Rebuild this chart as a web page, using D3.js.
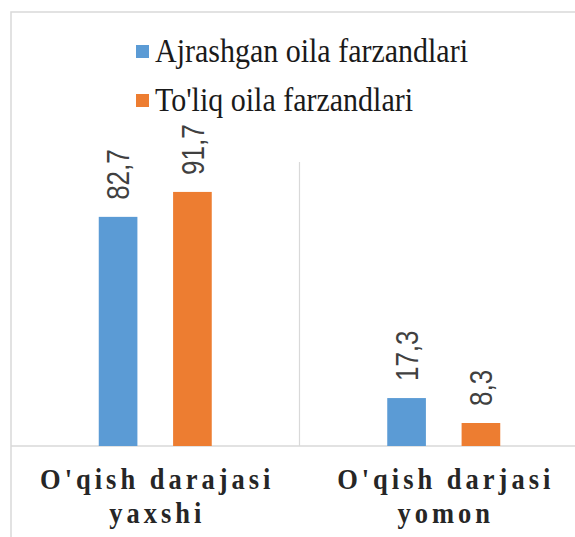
<!DOCTYPE html>
<html>
<head>
<meta charset="utf-8">
<script src="https://cdn.jsdelivr.net/npm/d3@7"></script>
<style>
  body { margin: 0; background: #fff; }
  svg { display: block; }
  .serif { font-family: "Liberation Serif", "Times New Roman", serif; }
  .sans { font-family: "Liberation Sans", Arial, sans-serif; }
</style>
</head>
<body>
<svg class="chart" width="575" height="537"></svg>
<script>
// data
var categories = [["O'qish darajasi", "yaxshi"], ["O'qish darjasi", "yomon"]];
var series = ["Ajrashgan oila farzandlari", "To'liq oila farzandlari"];
var ajrashgan = [82.7, 17.3];
var toliq = [91.7, 8.3];
var colors = ["#5b9bd5", "#ed7d31"];

var values = [ajrashgan, toliq];
var fmt = function(v) { return String(v).replace(".", ","); };

var svg = d3.select("svg.chart"),
    margin = {top: 162, left: 11, bottom: 91},
    width = 577,
    height = parseInt(svg.attr("height")) - margin.top - margin.bottom;

// outer frame of the chart area (right side is cut off)
svg.append("path")
    .attr("d", "M" + margin.left + ",537V12H575")
    .attr("fill", "none")
    .attr("stroke", "#d9d9d9")
    .attr("stroke-width", 1.5);

var catIdx = categories.map(function(d, i) { return i; });

var x0 = d3.scaleBand()
    .domain(catIdx)
    .range([0, width]);

var x1 = d3.scaleBand()
    .domain(d3.range(series.length))
    .range([x0.bandwidth() / 2 - 56.5, x0.bandwidth() / 2 + 56.5])
    .paddingInner(0.48);

var y = d3.scaleLinear()
    .domain([0, 102.5])
    .range([height, 0]);

var g = svg.append("g").attr("transform", "translate(" + margin.left + "," + margin.top + ")");

// category separators
g.selectAll(".sep")
    .data(catIdx.slice(1))
    .enter().append("line")
    .attr("x1", function(d) { return x0(d); })
    .attr("x2", function(d) { return x0(d); })
    .attr("y1", 0)
    .attr("y2", height)
    .attr("stroke", "#d9d9d9")
    .attr("stroke-width", 1.2);

// baseline
g.append("line")
    .attr("x1", 0).attr("x2", width)
    .attr("y1", y(0)).attr("y2", y(0))
    .attr("stroke", "#d9d9d9")
    .attr("stroke-width", 1.5);

var bars = [];
values.forEach(function(vals, s) {
    vals.forEach(function(v, c) { bars.push({s: s, c: c, v: v}); });
});

g.selectAll(".bar")
    .data(bars)
    .enter().append("rect")
    .attr("x", function(d) { return x0(d.c) + x1(d.s); })
    .attr("y", function(d) { return y(d.v); })
    .attr("width", x1.bandwidth())
    .attr("height", function(d) { return y(0) - y(d.v); })
    .attr("fill", function(d) { return colors[d.s]; });

// value labels, rotated (glyphs look a bit stretched in the original)
g.selectAll(".lbl")
    .data(bars)
    .enter().append("text")
    .attr("class", "sans")
    .attr("transform", function(d) {
        var cx = x0(d.c) + x1(d.s) + x1.bandwidth() / 2;
        return "translate(" + cx + "," + (y(d.v) - 17) + ") rotate(-90) scale(1,1.2)";
    })
    .attr("dy", "0.36em")
    .style("font-size", "26px")
    .attr("fill", "#404040")
    .text(function(d) { return fmt(d.v); });

// category labels, two lines each
var cl = g.selectAll(".cat")
    .data(categories)
    .enter().append("g")
    .attr("transform", function(d, i) {
        return "translate(" + (x0(i) + x0.bandwidth() / 2 + 2) + "," + (height + 43) + ")";
    });

cl.selectAll("text")
    .data(function(d) { return d; })
    .enter().append("text")
    .attr("class", "serif")
    .attr("transform", function(d, j) { return "translate(0," + j * 34 + ") scale(1,1.15)"; })
    .attr("text-anchor", "middle")
    .style("font-weight", "bold")
    .style("font-size", "26.5px")
    .style("letter-spacing", "4px")
    .attr("fill", "#262626")
    .text(function(d) { return d; });

// legend
var leg = svg.append("g").attr("transform", "translate(136,45)");
var li = leg.selectAll(".li")
    .data(series)
    .enter().append("g")
    .attr("transform", function(d, i) { return "translate(0," + i * 49 + ")"; });

li.append("rect")
    .attr("width", 13)
    .attr("height", 13)
    .attr("fill", function(d, i) { return colors[i]; });

li.append("text")
    .attr("class", "serif")
    .attr("transform", "translate(19,17) scale(1,1.1)")
    .style("font-size", "30px")
    .attr("fill", "#1a1a1a")
    .text(function(d) { return d; });
</script>
</body>
</html>
